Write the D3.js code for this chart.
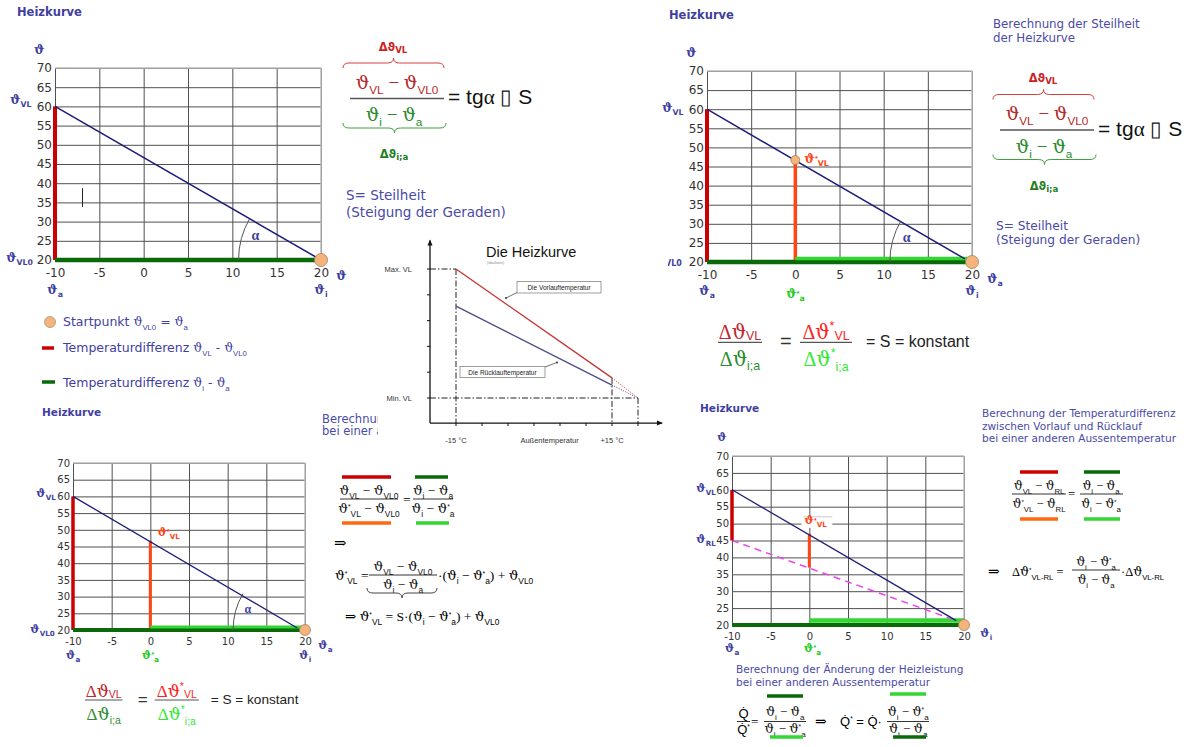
<!DOCTYPE html>
<html><head><meta charset="utf-8">
<script src="https://cdn.jsdelivr.net/npm/d3@7"></script>
<style>body{margin:0;background:#fff}svg{display:block}</style>
</head><body><svg id="c" width="1200" height="747"></svg>
<script>
// ---------- DATA ----------
const xTicks=[-10,-5,0,5,10,15,20];
const yTicks=[20,25,30,35,40,45,50,55,60,65,70];
// chart 1 (top-left)
const c1Line=[[-10,60],[20,20]];
const c1VL=[[-10,20],[-10,60]];
const c1IA=[[-10,20],[20,20]];
const c1Start=[20,20];
const c1Mark=[[-6.9,33.8],[-6.9,38.7]];
// chart 2 (top-right)
const c2Line=[[-10,60],[19.2,20.8]];
const c2VL=[[-10,20],[-10,60]];
const c2VLstar=[[0,20],[0,46.7]];
const c2IA=[[-10,20],[20,20]];
const c2IAstar=[[0,20.9],[20,20.9]];
const c2Point=[0,46.7];
const c2Start=[20,20];
// chart 3 (bottom-left)
const c3Line=[[-10,60],[19,20.6]];
const c3VL=[[-10,20],[-10,60]];
const c3VLstar=[[0,20],[0,46.7]];
const c3IA=[[-10,20],[20,20]];
const c3IAstar=[[0,20.9],[20,20.9]];
const c3Start=[20,20];
// chart 4 (bottom-right)
const c4Line=[[-10,60],[19,21.3]];
const c4RL=[[-10,45],[18.4,21.8]];
const c4VLRL=[[-10,45],[-10,60]];
const c4VLRLstar=[[0,37],[0,47]];
const c4IA=[[-10,20],[20,20]];
const c4IAstar=[[0,21.3],[20,21.3]];
const c4Start=[20,20];
// "Die Heizkurve" schematic (°C vs. relative temperature)
const hkTicksX=[-15,-10,-5,0,5,10,15,20];
const hkTicksY=[20,30,40,50,60,70];
const hkVorlauf=[[-15,70],[15,27.8]];
const hkRuecklauf=[[-15,55.6],[15,25]];
const hkVorlaufEnd=[[15,27.8],[20,20]];
const hkRuecklaufEnd=[[15,25],[20,20]];
const hkLabelsY=[["Max. VL",70],["Min. VL",20]];
const hkLabelsX=[["-15 °C",-15],["Außentemperatur",3],["+15 °C",15]];

// ---------- HELPERS ----------
const SANS="DejaVu Sans, Verdana, sans-serif";
const SERIF="Liberation Serif, DejaVu Serif, serif";
const THETA="DejaVu Serif, serif";
const ARIAL="Liberation Sans, Arial, sans-serif";
const BLUE="#3f3f9f", NAVY="#1c1c78", RED="#cc0000", ORANGE="#ff4514", DKGREEN="#0a6a0a", LTGREEN="#33d633";
const svg=d3.select("#c");

function rich(parent,x,y,parts,o={}){
  const size=o.size||13;
  const t=parent.append("text").attr("x",x).attr("y",y).attr("font-size",size)
    .attr("font-family",o.family||SANS).attr("fill",o.fill||"#000").attr("text-anchor",o.anchor||"start");
  if(o.weight) t.attr("font-weight",o.weight);
  let cur=0;
  parts.forEach(p=>{
    if(typeof p==="string") p={t:p};
    const off=p.s==="sub"?size*(p.o!=null?p.o:0.28):p.s==="sup"?-size*(p.o!=null?p.o:0.42):0;
    const ts=t.append("tspan").attr("dy",off-cur).text(p.t);
    cur=off;
    if(p.s) ts.attr("font-size",size*(p.k||0.62));
    if(p.fill) ts.attr("fill",p.fill);
    if(p.family) ts.attr("font-family",p.family);
    if(p.weight) ts.attr("font-weight",p.weight);
  });
  return t;
}
const th=(sub,extra={})=>[{t:"ϑ",family:THETA},{t:sub,s:"sub",family:ARIAL,...extra}];
function bar(x1,x2,y,color,w=3){svg.append("line").attr("x1",x1).attr("x2",x2).attr("y1",y).attr("y2",y).attr("stroke",color).attr("stroke-width",w);}
function hline(x1,x2,y,color="#333",w=1){bar(x1,x2,y,color,w);}
function brace(x1,x2,y,dir,color){ // dir -1 : over (peak up), +1 : under (peak down)
  const m=(x1+x2)/2, d=5*dir;
  const p=`M${x1},${y-d} Q${x1},${y} ${x1+6},${y} L${m-6},${y} Q${m},${y} ${m},${y+d} Q${m},${y} ${m+6},${y} L${x2-6},${y} Q${x2},${y} ${x2},${y-d}`;
  svg.append("path").attr("d",p).attr("fill","none").attr("stroke",color).attr("stroke-width",1);
}

function drawChart(c){
  const x=d3.scaleLinear().domain([-10,20]).range([c.l,c.r]);
  const y=d3.scaleLinear().domain([20,70]).range([c.b,c.t]);
  const g=svg.append("g");
  const gx=g.append("g").attr("transform",`translate(0,${c.b})`)
    .call(d3.axisBottom(x).tickValues(xTicks).tickSize(-(c.b-c.t)).tickPadding(c.pad).tickFormat(d=>String(d)));
  const gy=g.append("g").attr("transform",`translate(${c.l},0)`)
    .call(d3.axisLeft(y).tickValues(yTicks).tickSize(-(c.r-c.l)).tickPadding(3).tickFormat(d=>String(d)));
  [gx,gy].forEach(a=>{a.select(".domain").remove();
    a.selectAll("line").attr("stroke","#505050").attr("stroke-width",1);
    a.selectAll("text").attr("font-family",SANS).attr("font-size",c.fs).attr("fill","#333");});
  g.append("line").attr("x1",c.l).attr("x2",c.r).attr("y1",c.t).attr("y2",c.t).attr("stroke","#bdbdbd").attr("stroke-width",1.5);
  g.append("line").attr("x1",c.r).attr("x2",c.r).attr("y1",c.t).attr("y2",c.b).attr("stroke","#bdbdbd").attr("stroke-width",1.5);
  const line=d3.line().x(d=>x(d[0])).y(d=>y(d[1]));
  const seg=(data,color,w,dash)=>{const p=g.append("path").attr("d",line(data)).attr("fill","none").attr("stroke",color).attr("stroke-width",w);if(dash)p.attr("stroke-dasharray",dash);return p;};
  const dot=(pt,r)=>g.append("circle").attr("cx",x(pt[0])).attr("cy",y(pt[1])).attr("r",r).attr("fill","#f6b47c").attr("stroke","#a08060").attr("stroke-width",0.8);
  const arc=(lineData)=>{
    const cx=x(20),cy=y(20);
    const ang=Math.atan2(y(lineData[1][1])-y(lineData[0][1]),x(lineData[1][0])-x(lineData[0][0]));
    const r=0.31*(c.r-c.l);
    const p=d3.path(); p.arc(cx,cy,r,Math.PI,Math.PI+Math.abs(ang),false);
    g.append("path").attr("d",p.toString()).attr("fill","none").attr("stroke","#555").attr("stroke-width",1);
    rich(g,x(12.6),y(25.2),[{t:"α"}],{size:c.fs+2,family:SERIF,fill:BLUE,weight:"bold",anchor:"middle"});
  };
  return {x,y,g,seg,dot,arc};
}
function lab(parent,x,y,sub,o={}){
  const size=o.size||12.5;
  const parts=[{t:"ϑ",family:THETA,weight:"bold"}];
  if(o.star) parts.push({t:"*",s:"sup",k:0.6,o:0.15,family:ARIAL});
  if(sub) parts.push({t:sub,s:"sub",k:0.62,o:0.25,family:SANS,weight:"bold"});
  return rich(parent,x,y,parts,{size,fill:o.fill||BLUE,anchor:o.anchor||"start",weight:"bold"});
}

// ---------- CHART 1 ----------
{
  const C=drawChart({l:55,r:321,t:68,b:260,fs:12,pad:8});
  const {x,y,g}=C;
  C.seg(c1VL,RED,4); C.seg(c1IA,DKGREEN,4.5);
  C.seg(c1Line,NAVY,1.5);
  C.seg(c1Mark,"#222",1);
  C.arc(c1Line);
  C.dot(c1Start,6.5);
  rich(svg,17,16,["Heizkurve"],{size:11.5,weight:"bold",fill:BLUE});
  lab(svg,34,54,"");
  lab(svg,10,104,"VL");
  lab(svg,6,262,"VL0");
  lab(svg,x(-10),294,"a",{anchor:"middle"});
  lab(svg,x(20),294,"i",{anchor:"middle"});
  lab(svg,x(20)+15,280,"");
}
// ---------- CHART 2 ----------
{
  const C=drawChart({l:707,r:972,t:71,b:262,fs:12,pad:8});
  const {x,y,g}=C;
  C.seg(c2VL,RED,4); C.seg(c2VLstar,ORANGE,3.5);
  C.seg(c2IA,DKGREEN,4.5); C.seg(c2IAstar,LTGREEN,3.5);
  C.seg(c2Line,NAVY,1.5);
  C.arc(c2Line);
  C.dot(c2Point,4.5); C.dot(c2Start,6.5);
  rich(svg,669,19,["Heizkurve"],{size:11.5,weight:"bold",fill:BLUE});
  lab(svg,686,57,"");
  lab(svg,662,112,"VL");
  rich(svg,665,266,[{t:"VL0"}],{size:8,weight:"bold",fill:BLUE});
  lab(svg,x(-10),295,"a",{anchor:"middle"});
  lab(svg,x(0),298,"a",{anchor:"middle",star:true,fill:"#22cc22"});
  lab(svg,x(20),295,"i",{anchor:"middle"});
  lab(svg,x(20)+15,283,"a");
  lab(svg,x(0)+9,y(47)+4,"VL",{star:true,fill:ORANGE});
}
// ---------- CHART 3 ----------
{
  const C=drawChart({l:73,r:305,t:463,b:630,fs:10,pad:8});
  const {x,y,g}=C;
  C.seg(c3VL,RED,3.5); C.seg(c3VLstar,ORANGE,3);
  C.seg(c3IA,DKGREEN,4); C.seg(c3IAstar,LTGREEN,3);
  C.seg(c3Line,NAVY,1.3);
  C.arc(c3Line);
  C.dot(c3Start,5.5);
  rich(svg,42,416,["Heizkurve"],{size:10.5,weight:"bold",fill:BLUE});
  lab(svg,36,497,"VL",{size:11.5});
  lab(svg,30,633,"VL0",{size:11.5});
  lab(svg,x(-10),659,"a",{anchor:"middle",size:11.5});
  lab(svg,x(0),659,"a",{anchor:"middle",star:true,fill:"#22cc22",size:11.5});
  lab(svg,x(20),659,"i",{anchor:"middle",size:11.5});
  lab(svg,x(20)+13,649,"a",{size:11.5});
  lab(svg,x(0)+7,y(47)-4,"VL",{star:true,fill:ORANGE,size:11.5});
}
// ---------- CHART 4 ----------
{
  const C=drawChart({l:732,r:964,t:456,b:625,fs:10,pad:8});
  const {x,y,g}=C;
  C.seg(c4IA,DKGREEN,4); C.seg(c4IAstar,LTGREEN,4.5);
  C.seg(c4RL,"#ee44ee",1.5,"7,5");
  C.seg(c4VLRL,RED,3.5); C.seg(c4VLRLstar,ORANGE,3);
  C.seg(c4Line,NAVY,1.3);
  C.dot(c4Start,5.5);
  rich(svg,700,412,["Heizkurve"],{size:10.5,weight:"bold",fill:BLUE});
  lab(svg,717,441,"",{size:11.5});
  lab(svg,696,492,"VL",{size:11.5});
  lab(svg,696,543,"RL",{size:11.5});
  g.append("rect").attr("x",x(0)-8).attr("y",y(52)).attr("width",31).attr("height",11).attr("fill","#fff");
  g.append("line").attr("x1",x(0)-6).attr("x2",x(0)+23).attr("y1",y(52)).attr("y2",y(52)).attr("stroke","#bbb").attr("stroke-width",0.8);
  lab(svg,x(0)-5,y(49.8),"VL",{star:true,fill:ORANGE,size:11.5});
  lab(svg,x(-10),652,"a",{anchor:"middle",size:11.5});
  lab(svg,x(0)+3,652,"a",{anchor:"middle",star:true,fill:"#22cc22",size:11.5});
  lab(svg,x(20)+16,637,"i",{size:11.5});
}

// ---------- LEGEND ----------
svg.append("circle").attr("cx",50).attr("cy",322).attr("r",5.5).attr("fill","#f6b47c").attr("stroke","#998").attr("stroke-width",0.8);
rich(svg,63,326,["Startpunkt ",...th("VL0"),{t:" = "},...th("a")],{size:12.5,fill:BLUE});
bar(42,54,348,RED,3.5);
rich(svg,63,352,["Temperaturdifferenz ",...th("VL"),{t:" - "},...th("VL0")],{size:12.5,fill:BLUE});
bar(42,55,382,DKGREEN,3.5);
rich(svg,63,387,["Temperaturdifferenz ",...th("i"),{t:" - "},...th("a")],{size:12.5,fill:BLUE});

// ---------- FORMULA A (tg alpha) ----------
function formulaA(x0,yl){
  const w=94, m=x0+w/2;
  rich(svg,m-4,yl-48,[{t:"Δϑ"},{t:"VL",s:"sub",k:0.75,o:0.2}],{size:11.5,weight:"bold",fill:"#cc2222",anchor:"middle"});
  brace(x0-7,x0+w,yl-35.5,-1,"#d04040");
  rich(svg,m,yl-10,[...th("VL",{k:0.62}),{t:" − "},...th("VL0",{k:0.62})],{size:19,family:SERIF,fill:"#b52a2a",anchor:"middle"});
  hline(x0,x0+w,yl,"#555",1.5);
  rich(svg,m-3,yl+22.5,[...th("i"),{t:" − "},...th("a")],{size:19,family:SERIF,fill:"#2e8b2e",anchor:"middle"});
  brace(x0-7,x0+w+2,yl+29.5,1,"#40a040");
  rich(svg,m-3,yl+59.5,[{t:"Δϑ"},{t:"i;a",s:"sub",k:0.75,o:0.2}],{size:11.5,weight:"bold",fill:"#1f7f1f",anchor:"middle"});
  rich(svg,x0+98,yl+5.5,["= tg",{t:"α",family:SERIF}," ▯ S"],{size:21,family:ARIAL,fill:"#111"});
}
formulaA(350,98.5);
formulaA(1000,130);
rich(svg,346,200,["S= Steilheit"],{size:13.5,fill:"#4a4aa8"});
rich(svg,346,217,["(Steigung der Geraden)"],{size:13.5,fill:"#4a4aa8"});
rich(svg,996,230,["S= Steilheit"],{size:12.2,fill:"#4a4aa8"});
rich(svg,996,244,["(Steigung der Geraden)"],{size:12.2,fill:"#4a4aa8"});
rich(svg,993,28,["Berechnung der Steilheit"],{size:11.8,fill:"#4a4aa8"});
rich(svg,993,42,["der Heizkurve"],{size:11.8,fill:"#4a4aa8"});

// ---------- FORMULA B (S = konstant) ----------
function formulaB(x0,yl,k){
  const s=20*k;
  const f=(xa,xb,num,den,cn,cd)=>{
    hline(xa,xb,yl,"#555",1.2);
    rich(svg,(xa+xb)/2,yl-3*k,num,{size:s,family:SERIF,fill:cn,anchor:"middle"});
    rich(svg,(xa+xb)/2,yl+24*k,den,{size:s,family:SERIF,fill:cd,anchor:"middle"});
  };
  const D=[{t:"Δ"},{t:"ϑ",family:THETA}];
  f(x0,x0+44*k,[...D,{t:"VL",s:"sub",family:ARIAL,k:0.62,o:0.05}],[...D,{t:"i;a",s:"sub",family:ARIAL,k:0.62,o:0.2}],"#c0282f","#2e8b2e");
  rich(svg,x0+62*k,yl+6*k,["="],{size:s,family:ARIAL,fill:"#333"});
  f(x0+82*k,x0+134*k,[...D,{t:"*",s:"sup",family:ARIAL,k:0.62,o:0.45},{t:"VL",s:"sub",family:ARIAL,k:0.62,o:0.05}],
    [...D,{t:"*",s:"sup",family:ARIAL,k:0.62,o:0.45},{t:"i;a",s:"sub",family:ARIAL,k:0.62,o:0.25}],"#ff2424","#33e833");
  rich(svg,x0+148*k,yl+4.5*k,["= S = konstant"],{size:16*k,family:ARIAL,fill:"#222"});
}
formulaB(718,342.3,1);
formulaB(85,700,0.85);

// ---------- FORMULA C (bottom-left) ----------
{
  const S=13.5, F={size:S,family:SERIF,fill:"#111",anchor:"middle"};
  const st=(sub)=>[{t:"ϑ",family:THETA},{t:"*",s:"sup",k:0.5,o:0.3,family:ARIAL},{t:sub,s:"sub",family:ARIAL,k:0.62,o:0.28}];
  bar(342,391,477,RED,3.5); bar(415,448,477,DKGREEN,3.5);
  hline(340,398,499,"#333",1);
  rich(svg,369,495,[...th("VL"),{t:" − "},...th("VL0")],F);
  rich(svg,369,513,[...st("VL"),{t:" − "},...th("VL0")],F);
  rich(svg,403,504,["="],{size:S,family:SERIF});
  hline(413,453,499,"#333",1);
  rich(svg,433,495,[...th("i"),{t:" − "},...th("a")],F);
  rich(svg,433,513,[...th("i"),{t:" − "},...st("a")],F);
  bar(342,391,523,"#ff6a10",3.5); bar(416,449,523,LTGREEN,3.5);
  rich(svg,334,548,["⇒"],{size:15,family:SERIF});
  rich(svg,335,580,[...st("VL"),{t:" ="}],{size:S,family:SERIF});
  hline(369,437,575,"#333",1);
  rich(svg,403,571,[...th("VL"),{t:" − "},...th("VL0")],F);
  rich(svg,403,589,[...th("i"),{t:" − "},...th("a")],F);
  rich(svg,438,580,["·(",...th("i"),{t:" − "},...st("a"),{t:") + "},...th("VL0")],{size:S,family:SERIF});
  brace(367,437,593,1,"#444");
  rich(svg,345,621,["⇒ ",...st("VL"),{t:" = S·("},...th("i"),{t:" − "},...st("a"),{t:") + "},...th("VL0")],{size:S,family:SERIF});
}
// ---------- FORMULA D (bottom-right) ----------
{
  const S=12.5, F={size:S,family:SERIF,fill:"#111",anchor:"middle"};
  const st=(sub)=>[{t:"ϑ",family:THETA},{t:"*",s:"sup",k:0.5,o:0.3,family:ARIAL},{t:sub,s:"sub",family:ARIAL,k:0.62,o:0.28}];
  rich(svg,982,417,["Berechnung der Temperaturdifferenz"],{size:10.5,fill:"#4a4aa8"});
  rich(svg,982,429.5,["zwischen Vorlauf und Rücklauf"],{size:10.5,fill:"#4a4aa8"});
  rich(svg,982,442,["bei einer anderen Aussentemperatur"],{size:10.5,fill:"#4a4aa8"});
  bar(1020,1058,472,RED,3.5); bar(1084,1120,472,DKGREEN,3.5);
  hline(1012,1066,494,"#333",1);
  rich(svg,1039,490,[...th("VL"),{t:" − "},...th("RL")],F);
  rich(svg,1039,508,[...st("VL"),{t:" − "},...th("RL")],F);
  rich(svg,1068,498,["="],{size:S,family:SERIF});
  hline(1080,1123,494,"#333",1);
  rich(svg,1101,490,[...th("i"),{t:" − "},...th("a")],F);
  rich(svg,1101,508,[...th("i"),{t:" − "},...st("a")],F);
  bar(1020,1058,519,"#ff6a10",3.5); bar(1084,1120,519,LTGREEN,3.5);
  rich(svg,988,576,["⇒"],{size:14,family:SERIF});
  rich(svg,1012,576,[{t:"Δ"},{t:"ϑ",family:THETA},{t:"*",s:"sup",k:0.5,o:0.3,family:ARIAL},{t:"VL-RL",s:"sub",family:ARIAL,k:0.62,o:0.28},{t:" ="}],{size:S,family:SERIF});
  hline(1072,1120,570,"#333",1);
  rich(svg,1096,566,[...th("i"),{t:" − "},...st("a")],F);
  rich(svg,1096,584,[...th("i"),{t:" − "},...th("a")],F);
  rich(svg,1121,576,["·Δ",...th("VL-RL")],{size:S,family:SERIF});
}
// ---------- FORMULA E (Heizleistung) ----------
{
  const S=13, F={size:S,family:SERIF,fill:"#111",anchor:"middle"};
  const st=(sub)=>[{t:"ϑ",family:THETA},{t:"*",s:"sup",k:0.5,o:0.3,family:ARIAL},{t:sub,s:"sub",family:ARIAL,k:0.62,o:0.28}];
  rich(svg,736,673,["Berechnung der Änderung der Heizleistung"],{size:10.5,fill:"#4a4aa8"});
  rich(svg,736,685.5,["bei einer anderen Aussentemperatur"],{size:10.5,fill:"#4a4aa8"});
  hline(737,750,721.5,"#333",1);
  rich(svg,743.5,718,["Q\u0307"],{size:S,family:ARIAL,anchor:"middle"});
  rich(svg,743.5,734,["Q\u0307",{t:"*",s:"sup",k:0.5,o:0.4}],{size:S,family:ARIAL,anchor:"middle"});
  rich(svg,751,726,["="],{size:S,family:SERIF});
  bar(767,803,696,DKGREEN,3.5);
  hline(764,806,721.5,"#333",1);
  rich(svg,785,716,[...th("i"),{t:" − "},...th("a")],F);
  rich(svg,785,733,[...th("i"),{t:" − "},...st("a")],F);
  bar(770,803,737,LTGREEN,3.5);
  rich(svg,815,726,["⇒"],{size:14,family:SERIF});
  rich(svg,840,726,["Q\u0307",{t:"*",s:"sup",k:0.5,o:0.4},{t:" = Q\u0307·"}],{size:S,family:ARIAL});
  bar(890,926,694,LTGREEN,3.5);
  hline(887,929,721.5,"#333",1);
  rich(svg,908,716,[...th("i"),{t:" − "},...st("a")],F);
  rich(svg,908,733,[...th("i"),{t:" − "},...th("a")],F);
  bar(893,926,737,DKGREEN,3.5);
}

// ---------- text partly hidden by schematic ----------
rich(svg,322,423,["Berechnung der Temperatur"],{size:11.5,fill:"#4a4aa8"});
rich(svg,322,435,["bei einer anderen Aussentemperatur"],{size:11.5,fill:"#4a4aa8"});

// ---------- "DIE HEIZKURVE" SCHEMATIC ----------
{
  const g=svg.append("g");
  g.append("rect").attr("x",378).attr("y",228).attr("width",290).attr("height",224).attr("fill","#fff");
  const x=d3.scaleLinear().domain([-15,15]).range([456,612]);
  const y=d3.scaleLinear().domain([20,70]).range([398,269]);
  const x0=x(-20), y0=y(10.3);
  const line=d3.line().x(d=>x(d[0])).y(d=>y(d[1]));
  const DD="6,2,1.5,2";
  const guide=(d)=>g.append("path").attr("d",line(d)).attr("stroke","#222").attr("stroke-dasharray",DD).attr("fill","none");
  guide([[-20,70],[-15,70]]); guide([[-20,20],[20,20]]);
  guide([[-15,70],[-15,10.3]]); guide([[15,27.8],[15,10.3]]); guide([[20,20],[20,10.3]]);
  // axes
  g.append("line").attr("x1",x0).attr("x2",x0).attr("y1",y0).attr("y2",y(81)).attr("stroke","#111").attr("stroke-width",1.3);
  g.append("line").attr("x1",x0).attr("x2",x(24.6)).attr("y1",y0).attr("y2",y0).attr("stroke","#111").attr("stroke-width",1.3);
  g.append("path").attr("d",`M${x0-2.5},${y(81)+5} L${x0},${y(81)-1} L${x0+2.5},${y(81)+5}Z`).attr("fill","#111");
  g.append("path").attr("d",`M${x(24.6)-5},${y0-2.5} L${x(24.6)+1},${y0} L${x(24.6)-5},${y0+2.5}Z`).attr("fill","#111");
  g.selectAll(".tx").data(hkTicksX).join("line").attr("x1",d=>x(d)).attr("x2",d=>x(d)).attr("y1",y0).attr("y2",y0+3).attr("stroke","#111");
  g.selectAll(".ty").data(hkTicksY).join("line").attr("x1",x0-3).attr("x2",x0).attr("y1",d=>y(d)).attr("y2",d=>y(d)).attr("stroke","#111");
  // curves
  g.append("path").attr("d",line(hkVorlauf)).attr("stroke","#c83232").attr("stroke-width",1.3).attr("fill","none");
  g.append("path").attr("d",line(hkRuecklauf)).attr("stroke","#4c4c8c").attr("stroke-width",1.3).attr("fill","none");
  g.append("path").attr("d",line(hkVorlaufEnd)).attr("stroke","#c83232").attr("stroke-width",1).attr("stroke-dasharray","1,1.5").attr("fill","none");
  g.append("path").attr("d",line(hkRuecklaufEnd)).attr("stroke","#4c4c8c").attr("stroke-width",1).attr("stroke-dasharray","1,1.5").attr("fill","none");
  // labels
  hkLabelsY.forEach(([t,v])=>rich(g,x0-18,y(v)+3,[t],{size:7.5,family:ARIAL,fill:"#333",anchor:"end"}));
  hkLabelsX.forEach(([t,v])=>rich(g,x(v),443,[t],{size:7.5,family:ARIAL,fill:"#333",anchor:"middle"}));
  rich(g,486,257,["Die Heizkurve"],{size:14.5,family:ARIAL,fill:"#111"});
  rich(g,487,264,["(idealisiert)"],{size:3.5,family:ARIAL,fill:"#888"});
  // annotation boxes
  g.append("line").attr("x1",518).attr("y1",292).attr("x2",506).attr("y2",298).attr("stroke","#333").attr("stroke-width",0.7);
  g.append("circle").attr("cx",506).attr("cy",298).attr("r",1).attr("fill","#333");
  g.append("rect").attr("x",517).attr("y",281.5).attr("width",84).attr("height",11.5).attr("fill","#fff").attr("stroke","#777").attr("stroke-width",0.7);
  rich(g,559,290,["Die Vorlauftemperatur"],{size:6.5,family:ARIAL,fill:"#222",anchor:"middle"});
  g.append("line").attr("x1",545).attr("y1",367).attr("x2",557).attr("y2",362.5).attr("stroke","#333").attr("stroke-width",0.7);
  g.append("circle").attr("cx",557).attr("cy",362.5).attr("r",1).attr("fill","#333");
  g.append("rect").attr("x",460).attr("y",366.5).attr("width",85).attr("height",11).attr("fill","#fff").attr("stroke","#777").attr("stroke-width",0.7);
  rich(g,502.5,374.5,["Die Rücklauftemperatur"],{size:6.5,family:ARIAL,fill:"#222",anchor:"middle"});
}
</script></body></html>
